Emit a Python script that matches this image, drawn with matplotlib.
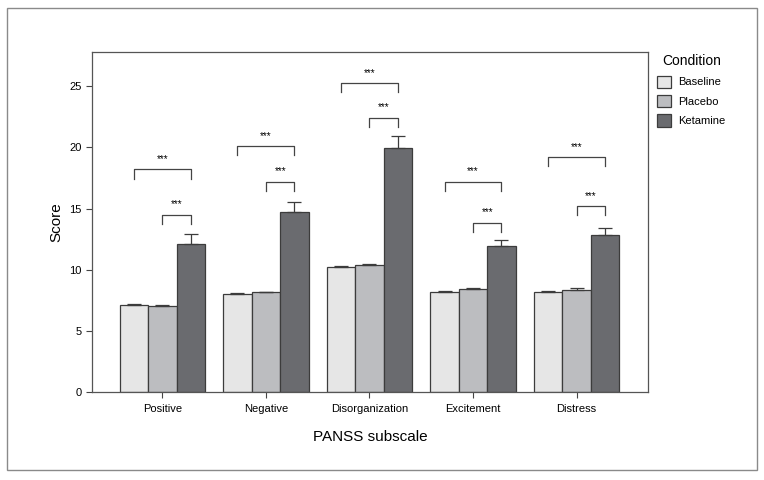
import numpy as np
import matplotlib
matplotlib.use('Agg')
import matplotlib.pyplot as plt
import matplotlib.patches as patches

plt.rcParams['font.family'] = ['Liberation Sans', 'DejaVu Sans']

# Data
subscales = ['Positive', 'Negative', 'Disorganization', 'Excitement', 'Distress']
conditions = ['Baseline', 'Placebo', 'Ketamine']
baseline = [7.1, 8.0, 10.2, 8.15, 8.15]
placebo = [7.0, 8.15, 10.4, 8.4, 8.35]
ketamine = [12.1, 14.7, 19.95, 11.9, 12.85]
baseline_err = [0.08, 0.06, 0.1, 0.08, 0.08]
placebo_err = [0.12, 0.06, 0.1, 0.1, 0.12]
ketamine_err = [0.85, 0.8, 0.95, 0.5, 0.55]
# significance brackets: (outer height baseline-ketamine, inner height placebo-ketamine)
outer_sig = [18.2, 20.1, 25.25, 17.2, 19.2]
inner_sig = [14.5, 17.2, 22.4, 13.85, 15.2]
sig_label = '***'

colors = ['#e6e6e6', '#bcbdc0', '#6a6b6f']
edge = '#3c3c3c'

fig = plt.figure(figsize=(7.64, 4.8), dpi=100)
ax = fig.add_axes([92 / 764, 1 - 392 / 480, (648 - 92) / 764, (392 - 52) / 480])

# outer frame around the whole figure
frame = patches.Rectangle((7 / 764, 1 - 470 / 480), 750 / 764, 462 / 480,
                          transform=fig.transFigure, fill=False,
                          edgecolor='#8a8a8a', linewidth=1.0)
fig.patches.append(frame)

x = np.arange(len(subscales))
w = 0.275
series = [baseline, placebo, ketamine]
errs = [baseline_err, placebo_err, ketamine_err]
for i, (vals, err) in enumerate(zip(series, errs)):
    ax.bar(x + (i - 1) * w, vals, w, color=colors[i], edgecolor=edge,
           linewidth=0.9, label=conditions[i], zorder=2)
    ax.errorbar(x + (i - 1) * w, vals, yerr=[np.zeros(len(vals)), err],
                fmt='none', ecolor=edge, elinewidth=0.9, capsize=5,
                capthick=0.9, zorder=3)

# significance brackets
leg = 0.75
for j in range(len(subscales)):
    x0, x1, x2 = x[j] - w, x[j], x[j] + w
    h = outer_sig[j]
    ax.plot([x0, x0, x2, x2], [h - leg, h, h, h - leg], color='#444444', lw=0.9)
    ax.text((x0 + x2) / 2, h + 0.45, sig_label, ha='center', va='bottom', fontsize=7)
    h = inner_sig[j]
    ax.plot([x1, x1, x2, x2], [h - leg, h, h, h - leg], color='#444444', lw=0.9)
    ax.text((x1 + x2) / 2, h + 0.45, sig_label, ha='center', va='bottom', fontsize=7)

ax.set_xlim(-0.68, 4.69)
ax.set_ylim(0, 27.8)
ax.set_yticks([0, 5, 10, 15, 20, 25])
ax.set_xticks(x)
ax.set_xticklabels(subscales)
ax.tick_params(axis='both', labelsize=8, color='#444444', length=4, width=0.8)
ax.tick_params(axis='x', pad=5)
for s in ax.spines.values():
    s.set_color('#555555')
    s.set_linewidth(0.9)
ax.set_ylabel('Score', fontsize=11, labelpad=4)
ax.set_xlabel('PANSS subscale', fontsize=11, labelpad=11)

ax.legend(loc='upper left', bbox_to_anchor=(0.998, 1.023), frameon=False,
          title='Condition', title_fontsize=10, fontsize=8,
          handlelength=1.3, handleheight=1.3, handletextpad=0.65,
          labelspacing=0.66, alignment='center')

fig.savefig('out.png', dpi=100)
